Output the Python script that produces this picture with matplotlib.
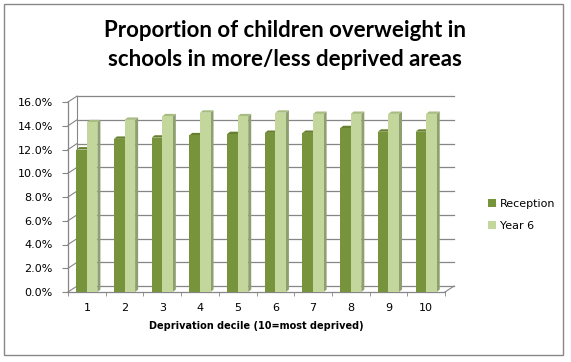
import matplotlib
matplotlib.use("Agg")
import matplotlib.pyplot as plt
from matplotlib.patches import Polygon, Rectangle, Patch
from matplotlib.ticker import FuncFormatter

# data (percent)
deciles = ["1", "2", "3", "4", "5", "6", "7", "8", "9", "10"]
reception = [12.0, 12.9, 13.0, 13.2, 13.3, 13.4, 13.4, 13.8, 13.5, 13.5]
year6 = [14.3, 14.5, 14.8, 15.1, 14.8, 15.1, 15.0, 15.0, 15.0, 15.0]
series_names = ["Reception", "Year 6"]

colors = {
    "Reception": ("#77933c", "#5a7030", "#66802f"),   # front, side, top
    "Year 6": ("#c3d69b", "#8fa070", "#a8bb80"),
}

fig = plt.figure(figsize=(5.71, 3.62), dpi=100)
ax = fig.add_axes([68 / 571, 70 / 362, 377 / 571, 190 / 362])

ax.set_xlim(0.5, 10.5)
ax.set_ylim(0, 16)

# depth of the fake 3d walls and bars, in data units
wall_dx, wall_dy = 0.24, 0.5
bar_dx, bar_dy = 0.08, 0.2
grid_col = "#868686"

yticks = list(range(0, 17, 2))

# back wall gridlines + diagonal connectors from the front axis
for y in yticks:
    ax.plot([0.5 + wall_dx, 10.5 + wall_dx], [y + wall_dy, y + wall_dy],
            color=grid_col, lw=0.9, clip_on=False, zorder=1)
    ax.plot([0.5, 0.5 + wall_dx], [y, y + wall_dy],
            color=grid_col, lw=0.8, clip_on=False, zorder=1)
ax.plot([0.5 + wall_dx, 0.5 + wall_dx], [wall_dy, 16 + wall_dy],
        color=grid_col, lw=0.8, clip_on=False, zorder=1)
ax.plot([10.5, 10.5 + wall_dx], [0, wall_dy],
        color=grid_col, lw=0.8, clip_on=False, zorder=1)

# bars with a side and top face
w = 0.28
for name, vals, off in [("Reception", reception, -w / 2), ("Year 6", year6, w / 2)]:
    front, side, top = colors[name]
    for i, v in enumerate(vals):
        xc = i + 1 + off
        x0, x1 = xc - w / 2, xc + w / 2
        ax.add_patch(Rectangle((x0, 0), w, v, facecolor=front, edgecolor="none", zorder=3))
        ax.add_patch(Polygon([(x1, 0), (x1 + bar_dx, bar_dy), (x1 + bar_dx, v + bar_dy), (x1, v)],
                             closed=True, facecolor=side, edgecolor="none", zorder=2.5))
        ax.add_patch(Polygon([(x0, v), (x0 + bar_dx, v + bar_dy), (x1 + bar_dx, v + bar_dy), (x1, v)],
                             closed=True, facecolor=top, edgecolor="none", zorder=2.5))

# axes styling
for s in ["top", "right"]:
    ax.spines[s].set_visible(False)
for s in ["left", "bottom"]:
    ax.spines[s].set_color(grid_col)
    ax.spines[s].set_linewidth(0.9)

ax.set_yticks(yticks)
ax.yaxis.set_major_formatter(FuncFormatter(lambda v, p: f"{v:.1f}%"))
ax.tick_params(axis="y", length=4, color=grid_col, labelsize=8, pad=7)

ax.set_xticks(range(1, 11))
ax.set_xticklabels(deciles)
ax.set_xticks([i + 0.5 for i in range(0, 11)], minor=True)
ax.tick_params(axis="x", which="major", length=0, labelsize=8, pad=8)
ax.tick_params(axis="x", which="minor", length=3, color=grid_col)

ax.set_xlabel("Deprivation decile (10=most deprived)", fontsize=7, fontweight="bold", labelpad=6)

fig.text(285 / 571, 1 - 45 / 362,
         "Proportion of children overweight in\nschools in more/less deprived areas",
         ha="center", va="center", fontsize=16, fontweight="bold", family="Lato",
         linespacing=1.45)

handles = [Patch(facecolor=colors[n][0], edgecolor="none") for n in series_names]
fig.legend(handles, series_names, loc="center left", bbox_to_anchor=(478 / 571, 1 - 215 / 362),
           frameon=False, fontsize=8, handlelength=0.7, handleheight=0.7,
           handletextpad=0.4, labelspacing=1.1)

# chart border
fig.patches.append(Rectangle((4 / 571, 7 / 362), 559 / 571, 351 / 362, transform=fig.transFigure,
                             fill=False, edgecolor="#888888", lw=1))

fig.savefig("out.png", dpi=100)
